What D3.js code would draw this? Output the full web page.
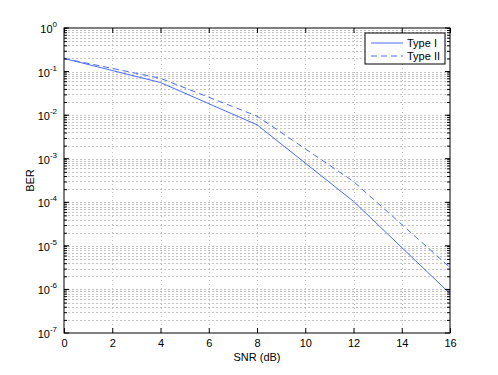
<!DOCTYPE html>
<html>
<head>
<meta charset="utf-8">
<script src="https://cdn.jsdelivr.net/npm/d3@7"></script>
<style>
  body { margin: 0; background: #fff; }
  text { font-family: "Liberation Sans", Arial, sans-serif; }
</style>
</head>
<body>
<div id="chart"></div>
<script>
// --- Data ---
const snr = [0, 4, 8, 12, 16];
const typeI = [0.2, 0.056, 0.006, 1.05e-4, 8e-7];
const typeII = [0.2, 0.07, 0.0095, 3e-4, 3.2e-6];
const seriesNames = ["Type I", "Type II"];
const xTicks = [0, 2, 4, 6, 8, 10, 12, 14, 16];
const yExponents = [0, -1, -2, -3, -4, -5, -6, -7];

const width = 498, height = 375;
const margin = { top: 28, right: 48, bottom: 42, left: 64 };

const svg = d3.select("#chart")
    .append("svg")
    .attr("width", width)
    .attr("height", height);

const x = d3.scaleLinear()
    .domain([0, 16])
    .range([margin.left, width - margin.right]);

const y = d3.scaleLog()
    .domain([1e-7, 1])
    .range([height - margin.bottom, margin.top]);

// grid: major x, all log ticks on y
const gridColor = "#c4c4c4";
const grid = svg.append("g").attr("stroke", gridColor).attr("stroke-width", 1)
    .attr("stroke-dasharray", "2,2");

xTicks.slice(1, -1).forEach(t => {
    grid.append("line")
        .attr("x1", Math.round(x(t)) + 0.5).attr("x2", Math.round(x(t)) + 0.5)
        .attr("y1", y(1)).attr("y2", y(1e-7))
        .attr("stroke-dasharray", "1,3");
});

const yGridVals = [];
for (let e = -7; e < 0; e++) {
    for (let m = 1; m <= 9; m++) yGridVals.push(m * Math.pow(10, e));
}
yGridVals.filter(v => v > 1e-7).forEach(v => {
    grid.append("line")
        .attr("x1", x(0)).attr("x2", x(16))
        .attr("y1", Math.round(y(v)) + 0.5).attr("y2", Math.round(y(v)) + 0.5);
});

// --- lines ---
const line = d3.line()
    .x((d, i) => x(snr[i]))
    .y(d => y(d));

svg.append("path")
    .datum(typeI)
    .attr("fill", "none")
    .attr("stroke", "#4a6cf7")
    .attr("stroke-width", 1)
    .attr("d", line);

svg.append("path")
    .datum(typeII)
    .attr("fill", "none")
    .attr("stroke", "#4a6cf7")
    .attr("stroke-width", 1)
    .attr("stroke-dasharray", "6,4")
    .attr("d", line);

// --- axes (MATLAB style box, ticks inward) ---
const xAxis = svg.append("g")
    .attr("transform", `translate(0,${y(1e-7)})`)
    .call(d3.axisBottom(x).tickValues(xTicks).tickSizeInner(-5).tickSizeOuter(0).tickPadding(6));
const xAxisTop = svg.append("g")
    .attr("transform", `translate(0,${y(1)})`)
    .call(d3.axisTop(x).tickValues(xTicks).tickSizeInner(-5).tickSizeOuter(0).tickFormat(""));

const yMinor = yGridVals.filter(v => v > 1e-7);
const yAxis = svg.append("g")
    .attr("transform", `translate(${x(0)},0)`)
    .call(d3.axisLeft(y).tickValues(yMinor.concat([1])).tickSizeInner(-3).tickSizeOuter(0).tickFormat(""));
const yAxisR = svg.append("g")
    .attr("transform", `translate(${x(16)},0)`)
    .call(d3.axisRight(y).tickValues(yMinor.concat([1])).tickSizeInner(-3).tickSizeOuter(0).tickFormat(""));

// major y ticks longer
[x(0), x(16)].forEach((px, k) => {
    yExponents.forEach(e => {
        const py = y(Math.pow(10, e));
        svg.append("line")
            .attr("x1", px).attr("x2", k === 0 ? px + 5 : px - 5)
            .attr("y1", py).attr("y2", py)
            .attr("stroke", "#000");
    });
});

[xAxis, xAxisTop, yAxis, yAxisR].forEach(g => {
    g.select(".domain").remove();
    g.selectAll("line").attr("stroke", "#000");
    g.selectAll("text").attr("font-size", 11).attr("fill", "#000")
        .style("font-family", "'Liberation Sans', Arial, sans-serif");
});

// box
svg.append("rect")
    .attr("x", x(0)).attr("y", y(1))
    .attr("width", x(16) - x(0)).attr("height", y(1e-7) - y(1))
    .attr("fill", "none").attr("stroke", "#000").attr("stroke-width", 1);

// y tick labels 10^e
yExponents.forEach(e => {
    const t = svg.append("text")
        .attr("x", x(0) - 7)
        .attr("y", y(Math.pow(10, e)) + 5)
        .attr("text-anchor", "end")
        .attr("font-size", 11);
    t.append("tspan").text("10");
    t.append("tspan").attr("dy", -6).attr("font-size", 8).text(e);
});

// axis labels
svg.append("text")
    .attr("x", (x(0) + x(16)) / 2)
    .attr("y", 361)
    .attr("text-anchor", "middle")
    .attr("font-size", 11)
    .text("SNR (dB)");

svg.append("text")
    .attr("transform", `translate(34,${(y(1) + y(1e-7)) / 2}) rotate(-90)`)
    .attr("text-anchor", "middle")
    .attr("font-size", 11)
    .text("BER");

// legend
const legend = svg.append("g").attr("transform", "translate(365,33)");
legend.append("rect")
    .attr("width", 80).attr("height", 31)
    .attr("fill", "#fff").attr("stroke", "#000");
seriesNames.forEach((name, i) => {
    const g = legend.append("g").attr("transform", `translate(0,${10 + i * 13})`);
    g.append("line")
        .attr("x1", 6).attr("x2", 38)
        .attr("stroke", "#4a6cf7")
        .attr("stroke-dasharray", i === 1 ? "6,4" : null);
    g.append("text")
        .attr("x", 42).attr("y", 4)
        .attr("font-size", 11)
        .text(name);
});
</script>
</body>
</html>
